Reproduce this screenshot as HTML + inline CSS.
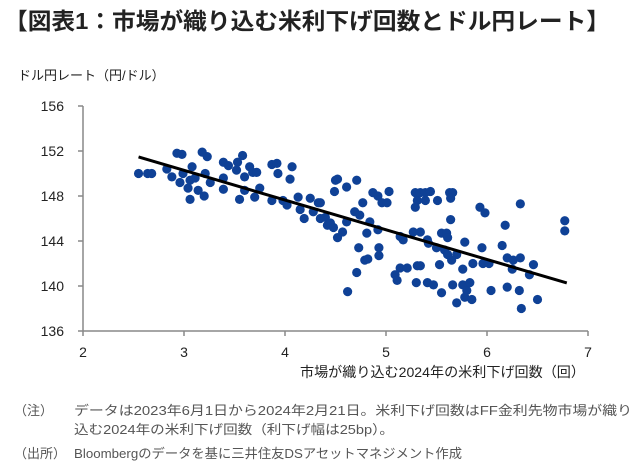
<!DOCTYPE html>
<html><head><meta charset="utf-8"><style>
body{margin:0;background:#fff;width:640px;height:476px;overflow:hidden;font-family:"Liberation Sans","Noto Sans CJK JP",sans-serif}
svg{display:block}
</style></head><body>
<svg id="chart" width="640" height="476">
<text x="4" y="29" font-size="23" font-weight="bold" fill="#222" textLength="606" lengthAdjust="spacingAndGlyphs">【図表1：市場が織り込む米利下げ回数とドル円レート】</text>
<text x="18" y="80" font-size="13" fill="#222">ドル円レート（円/ドル）</text>
<text x="300" y="377" font-size="14" fill="#222" textLength="285" lengthAdjust="spacingAndGlyphs">市場が織り込む2024年の米利下げ回数（回）</text>
<g id="axes"></g>
<g id="marks"></g>
<text x="14" y="415" font-size="13" fill="#555">（注）</text>
<text x="74" y="415" font-size="13" fill="#555" textLength="558" lengthAdjust="spacingAndGlyphs">データは2023年6月1日から2024年2月21日。米利下げ回数はFF金利先物市場が織り</text>
<text x="74" y="434" font-size="13" fill="#555" textLength="320" lengthAdjust="spacingAndGlyphs">込む2024年の米利下げ回数（利下げ幅は25bp）。</text>
<text x="14" y="458" font-size="13" fill="#555">（出所）</text>
<text x="74" y="458" font-size="13" fill="#555" textLength="388" lengthAdjust="spacingAndGlyphs">Bloombergのデータを基に三井住友DSアセットマネジメント作成</text>
</svg>
<script>
const xTicks=[2,3,4,5,6,7];
const yTicks=[136,140,144,148,152,156];
const cutsX=[2.55,2.64,2.68,2.83,2.88,2.93,2.98,2.96,2.99,3.08,3.06,3.04,3.06,3.11,3.14,3.18,3.23,3.21,3.26,3.20,3.39,3.44,3.39,3.39,3.53,3.58,3.52,3.60,3.65,3.68,3.72,3.55,3.60,3.70,3.75,3.87,3.92,3.93,4.07,4.05,3.87,3.98,4.02,4.13,4.15,4.25,4.33,4.28,4.19,4.35,4.42,4.50,4.52,4.49,4.61,4.71,4.35,4.40,4.45,4.48,4.52,4.57,4.61,4.69,4.74,4.77,4.87,4.92,4.96,5.01,5.03,4.84,4.81,4.92,4.73,4.79,4.82,4.93,4.93,4.71,4.62,5.14,5.17,5.29,5.31,5.29,5.34,5.39,5.44,5.39,5.51,5.63,5.66,5.64,5.27,5.34,5.41,5.42,5.55,5.60,5.61,5.50,5.58,5.61,5.70,5.65,5.53,5.14,5.09,5.11,5.21,5.31,5.34,5.30,5.41,5.47,5.55,5.66,5.70,5.76,5.80,5.83,5.78,5.85,5.64,5.78,5.86,5.76,5.95,5.96,6.02,5.93,5.98,6.15,6.18,6.04,6.20,6.20,6.26,6.33,6.25,6.32,6.34,6.33,6.42,6.46,6.50,6.77,6.77];
const usdjpy=[150.0,150.0,150.0,150.4,149.7,151.8,151.7,149.2,150.0,150.6,149.4,148.7,147.7,149.6,148.5,151.9,151.5,150.0,149.2,148.0,151.0,150.7,149.6,148.6,151.0,151.6,150.3,149.7,150.6,150.1,150.1,147.7,148.5,147.9,148.7,150.8,150.9,150.0,150.6,149.5,147.6,147.6,147.2,147.9,146.8,147.8,147.4,146.6,146.0,146.0,145.4,149.4,149.5,148.4,148.8,149.4,147.4,146.1,145.6,145.2,144.3,144.8,145.7,146.6,146.3,147.4,148.3,148.0,147.4,147.4,148.4,145.7,144.7,145.0,143.4,142.3,142.4,143.4,142.7,141.2,139.5,144.4,144.1,148.3,147.6,147.0,148.3,148.3,148.4,147.6,147.6,148.3,148.3,147.8,144.8,144.8,144.1,143.8,144.7,144.7,144.3,143.4,143.2,142.8,142.8,142.3,141.9,141.6,141.0,140.5,141.6,141.8,141.8,140.3,140.3,140.1,139.4,140.1,138.5,140.1,139.6,140.3,139.0,138.8,145.9,143.9,142.0,141.5,143.4,142.0,142.0,147.0,146.5,143.6,145.4,139.6,139.9,142.5,142.3,142.5,141.5,139.6,138.0,147.3,141.0,141.9,138.8,145.8,144.9];
const trendX=[2.55,6.79];
const trendY=[151.47,140.27];
const NS='http://www.w3.org/2000/svg';
const X0=83,X1=588,Y0=331,Y1=106;
function sx(v){return X0+(v-2)/(7-2)*(X1-X0);}
function sy(v){return Y0-(v-136)/(156-136)*(Y0-Y1);}
function mk(tag,attrs,parent){const e=document.createElementNS(NS,tag);for(const k in attrs)e.setAttribute(k,attrs[k]);parent.appendChild(e);return e;}
const axes=document.getElementById('axes'),marks=document.getElementById('marks');
let e=mk('line',{x1:X0,y1:Y1,x2:X0,y2:Y0,stroke:'#888','stroke-width':1.5},axes);


e=mk('line',{x1:X0,y1:Y0,x2:X1,y2:Y0,stroke:'#888','stroke-width':1.5},axes);


yTicks.forEach(t=>{
  const y=sy(t);
  const tk=mk('line',{x1:X0-5,y1:y,x2:X0,y2:y,stroke:'#888','stroke-width':1.5},axes);
  
  
  const lb=mk('text',{x:X0-19,y:y+5,'font-size':14,'text-anchor':'end',fill:'#222'},axes);
  lb.textContent=t;
  
  
});
xTicks.forEach(t=>{
  const x=sx(t);
  const tk=mk('line',{x1:x,y1:Y0,x2:x,y2:Y0+5,stroke:'#888','stroke-width':1.5},axes);
  
  
  const lb=mk('text',{x:x,y:Y0+26,'font-size':14,'text-anchor':'middle',fill:'#222'},axes);
  lb.textContent=t;
  
  
});
cutsX.forEach((v,i)=>{
  const c=mk('circle',{cx:sx(v),cy:sy(usdjpy[i]),r:4.6,fill:'#0f4196'},marks);
  
  
});
const tl=mk('line',{x1:sx(trendX[0]),y1:sy(trendY[0]),x2:sx(trendX[1]),y2:sy(trendY[1]),stroke:'#000','stroke-width':3},marks);


</script>
</body></html>
